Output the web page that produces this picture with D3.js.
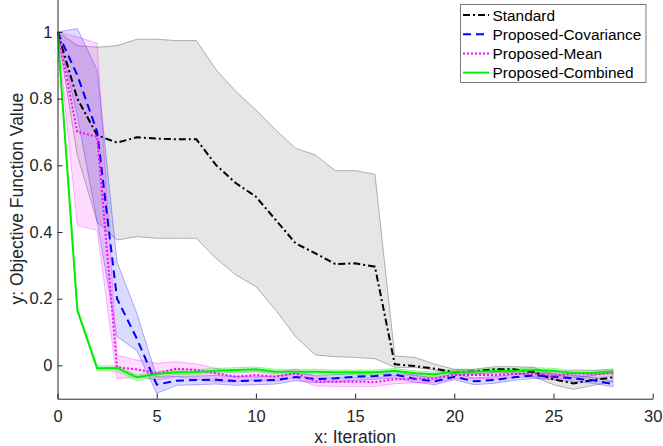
<!DOCTYPE html>
<html>
<head>
<meta charset="utf-8">
<script src="https://cdn.jsdelivr.net/npm/d3@7"></script>
<style>
  body { margin: 0; background: #fff; }
  svg { display: block; font-family: "Liberation Sans", Arial, Helvetica, sans-serif; }
</style>
</head>
<body>
<svg id="chart"></svg>
<script>
const width = 663;
const height = 446;

// iterations 0..28
const iterations = d3.range(0, 29);

const standardMean = [1.0, 0.80, 0.69, 0.668, 0.684, 0.68, 0.678, 0.678, 0.60, 0.546, 0.506, 0.436, 0.366, 0.336, 0.304, 0.306, 0.296, 0.003, -0.002, -0.01, -0.02, -0.018, -0.012, -0.012, -0.02, -0.042, -0.054, -0.044, -0.036];
const standardUpper = [1.0, 0.959, 0.954, 0.959, 0.978, 0.978, 0.974, 0.974, 0.886, 0.821, 0.766, 0.706, 0.651, 0.631, 0.584, 0.584, 0.573, 0.028, 0.024, 0.004, -0.012, -0.012, -0.004, -0.004, -0.006, -0.028, -0.036, -0.03, -0.02];
const standardLower = [1.0, 0.63, 0.43, 0.376, 0.386, 0.381, 0.381, 0.381, 0.32, 0.271, 0.236, 0.166, 0.086, 0.031, 0.026, 0.024, 0.02, -0.006, -0.006, -0.014, -0.026, -0.026, -0.022, -0.022, -0.034, -0.058, -0.072, -0.06, -0.048];

const covMean = [1.0, 0.87, 0.70, 0.2, 0.08, -0.058, -0.046, -0.044, -0.043, -0.047, -0.046, -0.044, -0.035, -0.041, -0.039, -0.034, -0.032, -0.028, -0.04, -0.048, -0.034, -0.048, -0.044, -0.036, -0.03, -0.034, -0.039, -0.045, -0.056];
const covUpper = [1.0, 1.01, 0.886, 0.31, 0.156, -0.035, -0.033, -0.032, -0.03, -0.034, -0.034, -0.032, -0.024, -0.03, -0.028, -0.024, -0.022, -0.018, -0.03, -0.038, -0.025, -0.038, -0.034, -0.027, -0.021, -0.025, -0.03, -0.036, -0.048];
const covLower = [1.0, 0.75, 0.43, 0.086, 0.044, -0.084, -0.06, -0.058, -0.056, -0.06, -0.058, -0.056, -0.046, -0.052, -0.05, -0.045, -0.042, -0.038, -0.05, -0.058, -0.043, -0.058, -0.054, -0.045, -0.039, -0.043, -0.048, -0.054, -0.064];

const meanMean = [1.0, 0.70, 0.686, -0.006, -0.012, -0.024, -0.01, -0.014, -0.024, -0.034, -0.029, -0.034, -0.024, -0.048, -0.049, -0.049, -0.05, -0.042, -0.04, -0.039, -0.029, -0.029, -0.029, -0.026, -0.024, -0.032, -0.024, -0.026, -0.022];
const meanUpper = [1.0, 0.985, 0.966, 0.03, 0.016, 0.006, 0.011, 0.004, -0.009, -0.02, -0.016, -0.021, -0.011, -0.034, -0.036, -0.036, -0.037, -0.03, -0.028, -0.027, -0.018, -0.018, -0.018, -0.015, -0.013, -0.021, -0.013, -0.015, -0.011];
const meanLower = [1.0, 0.42, 0.405, -0.04, -0.034, -0.044, -0.034, -0.042, -0.05, -0.05, -0.043, -0.048, -0.038, -0.062, -0.063, -0.063, -0.063, -0.055, -0.052, -0.051, -0.04, -0.04, -0.04, -0.037, -0.035, -0.043, -0.035, -0.037, -0.033];

const combMean = [1.0, 0.166, -0.009, -0.008, -0.036, -0.026, -0.021, -0.02, -0.016, -0.014, -0.012, -0.019, -0.019, -0.019, -0.021, -0.021, -0.021, -0.016, -0.024, -0.027, -0.019, -0.019, -0.017, -0.017, -0.014, -0.016, -0.024, -0.022, -0.018];
const combUpper = [1.0, 0.172, -0.002, -0.001, -0.029, -0.019, -0.014, -0.013, -0.009, -0.007, -0.005, -0.012, -0.012, -0.012, -0.014, -0.014, -0.014, -0.009, -0.017, -0.02, -0.012, -0.012, -0.01, -0.01, -0.007, -0.009, -0.017, -0.015, -0.011];
const combLower = [1.0, 0.16, -0.016, -0.018, -0.046, -0.034, -0.028, -0.027, -0.023, -0.021, -0.019, -0.026, -0.026, -0.026, -0.028, -0.028, -0.028, -0.023, -0.031, -0.034, -0.026, -0.026, -0.024, -0.024, -0.021, -0.023, -0.031, -0.029, -0.025];

const xTicks = [0, 5, 10, 15, 20, 25, 30];
const yTicks = [0, 0.2, 0.4, 0.6, 0.8, 1];

const series = [
    { name: 'Standard', mean: standardMean, upper: standardUpper, lower: standardLower,
      color: '#000', fill: 'rgba(128,128,128,0.2)', edge: 'rgba(128,128,128,0.6)', dash: '7,3,2,3' },
    { name: 'Proposed-Covariance', mean: covMean, upper: covUpper, lower: covLower,
      color: '#0000ff', fill: 'rgba(0,0,255,0.14)', edge: 'rgba(0,0,255,0.3)', dash: '8,5' },
    { name: 'Proposed-Mean', mean: meanMean, upper: meanUpper, lower: meanLower,
      color: '#ff00ff', fill: 'rgba(255,0,255,0.14)', edge: 'rgba(255,0,255,0.3)', dash: '2,2' },
    { name: 'Proposed-Combined', mean: combMean, upper: combUpper, lower: combLower,
      color: '#00ee00', fill: 'rgba(0,255,0,0.18)', edge: 'rgba(0,220,0,0.35)', dash: null }
];

const x = d3.scaleLinear().domain([0, 30]).range([57.5, 652.7]);
const y = d3.scaleLinear().domain([-0.1, 1.1]).range([398.7, -1.4]);

const svg = d3.select('#chart')
    .attr('width', width)
    .attr('height', height);

svg.append('defs').append('clipPath').attr('id', 'plot')
    .append('rect')
    .attr('x', x(0)).attr('y', y(1.1))
    .attr('width', x(30) - x(0)).attr('height', y(-0.1) - y(1.1));

const plot = svg.append('g').attr('clip-path', 'url(#plot)');

const area = d3.area()
    .x(function(d) { return x(d.x) })
    .y0(function(d) { return y(d.lo) })
    .y1(function(d) { return y(d.hi) });

const line = d3.line()
    .x(function(d) { return x(d.x) })
    .y(function(d) { return y(d.v) });

series.forEach(function(s) {
    const band = iterations.map(function(it, i) { return { x: it, lo: s.lower[i], hi: s.upper[i] } });
    plot.append('path')
        .attr('d', area(band))
        .attr('fill', s.fill)
        .attr('stroke', s.edge)
        .attr('stroke-width', 1);
});

series.forEach(function(s) {
    const pts = iterations.map(function(it, i) { return { x: it, v: s.mean[i] } });
    plot.append('path')
        .attr('d', line(pts))
        .attr('fill', 'none')
        .attr('stroke', s.color)
        .attr('stroke-width', 2)
        .attr('stroke-dasharray', s.dash);
});

// axes, MATLAB style: ticks inside
const axisColor = '#262626';

const xAxis = svg.append('g')
    .attr('transform', `translate(0, ${y(-0.1)})`)
    .call(d3.axisBottom(x).tickValues(xTicks).tickSizeInner(-5).tickSizeOuter(0).tickPadding(11.5));

const yAxis = svg.append('g')
    .attr('transform', `translate(${x(0)}, 0)`)
    .call(d3.axisLeft(y).tickValues(yTicks).tickFormat(d3.format('~g')).tickSizeInner(-5).tickSizeOuter(0).tickPadding(5));

[xAxis, yAxis].forEach(function(a) {
    a.selectAll('path, line').attr('stroke', axisColor);
    a.selectAll('text').attr('fill', axisColor).style('font-size', '16.5px');
    a.attr('font-family', null);
});

svg.append('text')
    .attr('x', (x(0) + x(30)) / 2)
    .attr('y', 443)
    .attr('text-anchor', 'middle')
    .attr('fill', axisColor)
    .style('font-size', '17.5px')
    .text('x: Iteration');

svg.append('text')
    .attr('transform', `translate(22.5, ${(y(-0.1) + y(1.1)) / 2}) rotate(-90)`)
    .attr('text-anchor', 'middle')
    .attr('fill', axisColor)
    .style('font-size', '17.5px')
    .text('y: Objective Function Value');

// legend
const legend = svg.append('g');
legend.append('rect')
    .attr('x', 460.5).attr('y', 4.5)
    .attr('width', 185.5).attr('height', 78)
    .attr('fill', '#fff')
    .attr('stroke', '#7a7a7a')
    .attr('stroke-width', 1);

series.forEach(function(s, i) {
    const cy = 15 + i * 19.2;
    legend.append('line')
        .attr('x1', 463).attr('x2', 489)
        .attr('y1', cy).attr('y2', cy)
        .attr('stroke', s.color)
        .attr('stroke-width', 2)
        .attr('stroke-dasharray', s.dash);
    legend.append('text')
        .attr('x', 492.5)
        .attr('y', cy + 5.5)
        .attr('fill', '#000')
        .style('font-size', '15.4px')
        .text(s.name);
});
</script>
</body>
</html>
